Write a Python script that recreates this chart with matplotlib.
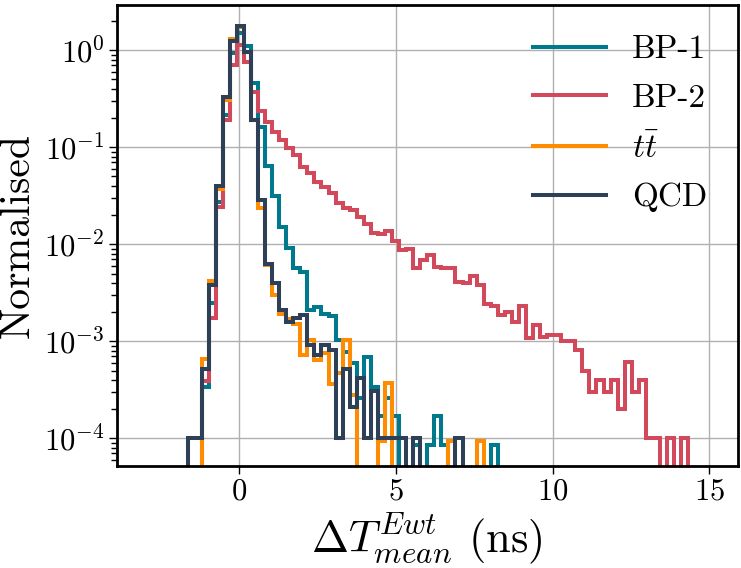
import numpy as np
import matplotlib
matplotlib.use("Agg")
import matplotlib.pyplot as plt

plt.rcParams['font.family'] = 'serif'
plt.rcParams['font.serif'] = ['cmr10']
plt.rcParams['mathtext.fontset'] = 'cm'
plt.rcParams['axes.formatter.use_mathtext'] = True
plt.rcParams['axes.unicode_minus'] = False

# Common binning: 80 bins between -3 and 15 ns
bin_lo, bin_hi, n_bins = -3.0, 15.0, 80
bin_edges = np.linspace(bin_lo, bin_hi, n_bins + 1)

labels = ["BP-1", "BP-2", r"$t\bar{t}$", "QCD"]
colors = ["#00798c", "#d1495b", "#ff8c00", "#2e4057"]

bp1 = [0, 0, 0, 0, 0, 0, 0, 0, 3.4e-4, 0.0025,
       0.0275, 0.214, 0.925, 1.5, 1.10, 0.46, 0.163, 0.064, 0.0317, 0.015,
       0.0091, 0.0057, 0.0052, 0.0021, 0.00225, 0.0019, 0.00183, 0.00104, 7.7e-4, 6.0e-4,
       2.6e-4, 6.9e-4, 3.4e-4, 1.7e-4, 2.6e-4, 1.7e-4, 0, 0, 8.6e-5, 0,
       8.6e-5, 1.7e-4, 8.6e-5, 0, 0, 0, 0, 0, 0, 8.6e-5,
       0, 0, 0, 0, 0, 0, 0, 0, 0, 0,
       0, 0, 0, 0, 0, 0, 0, 0, 0, 0,
       0, 0, 0, 0, 0, 0, 0, 0, 0, 0]

bp2 = [0, 0, 0, 0, 0, 0, 0, 0, 3.9e-4, 0.00174,
       0.0244, 0.19, 0.70, 1.13, 0.76, 0.372, 0.235, 0.18, 0.144, 0.119,
       0.099, 0.084, 0.063, 0.054, 0.0442, 0.0392, 0.0335, 0.0265, 0.0235, 0.0226,
       0.0193, 0.0162, 0.0132, 0.0127, 0.0137, 0.0107, 0.0087, 0.0090, 0.0057, 0.0069,
       0.0078, 0.0059, 0.0057, 0.0057, 0.0041, 0.0040, 0.00466, 0.0038, 0.00242, 0.00229,
       0.00188, 0.00199, 0.0016, 0.00232, 0.00108, 0.00148, 0.0011, 0.00117, 0.00117, 0.0010,
       0.0010, 8.2e-4, 4.9e-4, 3.0e-4, 4.0e-4, 3.0e-4, 4.0e-4, 2.0e-4, 6.1e-4, 3.0e-4,
       4.0e-4, 1.0e-4, 1.0e-4, 0, 1.0e-4, 0, 1.0e-4, 0, 0, 0]

ttbar = [0, 0, 0, 0, 0, 0, 0, 0, 6.6e-4, 0.0042,
         0.037, 0.306, 1.29, 1.72, 0.95, 0.19, 0.0235, 0.0061, 0.0030, 0.0019,
         0.0017, 0.00152, 7.3e-4, 1.04e-3, 6.5e-4, 7.6e-4, 3.6e-4, 4.7e-4, 1.04e-3, 2.8e-4,
         0, 0, 0, 9.3e-5, 3.7e-4, 0, 0, 0, 0, 0,
         0, 0, 0, 9.3e-5, 0, 0, 0, 9.3e-5, 0, 0,
         0, 0, 0, 0, 0, 0, 0, 0, 0, 0,
         0, 0, 0, 0, 0, 0, 0, 0, 0, 0,
         0, 0, 0, 0, 0, 0, 0, 0, 0, 0]

qcd = [0, 0, 0, 0, 0, 0, 1.0e-4, 1.0e-4, 5.2e-4, 3.8e-3,
       0.040, 0.326, 1.25, 1.78, 0.947, 0.19, 0.0286, 0.0063, 0.0040, 0.0021,
       0.0016, 0.00173, 0.00188, 9.2e-4, 7.2e-4, 9.2e-4, 8.2e-4, 1.0e-4, 5.2e-4, 2.1e-4,
       4.2e-4, 1.0e-4, 3.1e-4, 1.0e-4, 1.0e-4, 1.0e-4, 1.0e-4, 0, 1.0e-4, 0,
       0, 0, 0, 0, 1.0e-4, 0, 0, 0, 0, 0,
       0, 0, 0, 0, 0, 0, 0, 0, 0, 0,
       0, 0, 0, 0, 0, 0, 0, 0, 0, 0,
       0, 0, 0, 0, 0, 0, 0, 0, 0, 0]

series = [bp1, bp2, ttbar, qcd]

fig = plt.figure(figsize=(7.41, 5.68), dpi=100)
ax = fig.add_axes([0.1579, 0.1796, 0.8374, 0.8116])

for vals, lab, col in zip(series, labels, colors):
    ax.stairs(np.array(vals, dtype=float), bin_edges, baseline=0, fill=False,
              color=col, linewidth=2.9, label=lab)

ax.set_yscale('log')
ax.set_xlim(-3.9, 15.9)
ax.set_ylim(5.2e-5, 2.92)
ax.set_xticks([0, 5, 10, 15])

ax.grid(True, which='major', color='#b0b0b0', linewidth=1.0)
ax.set_axisbelow(True)

for sp in ax.spines.values():
    sp.set_linewidth(2.0)

ax.tick_params(axis='both', which='major', labelsize=22, length=5.5, width=1.0)
ax.tick_params(axis='y', which='minor', length=4.5, width=1.0)

ax.set_xlabel(r"$\Delta T^{Ewt}_{mean}$ (ns)", fontsize=32, labelpad=4)
ax.set_ylabel("Normalised", fontsize=30, labelpad=5)

ax.legend(loc='upper right', fontsize=24, frameon=False, handlelength=2.2,
          handletextpad=0.78, labelspacing=0.58, borderaxespad=0.5)

fig.savefig("out.png", dpi=100)
